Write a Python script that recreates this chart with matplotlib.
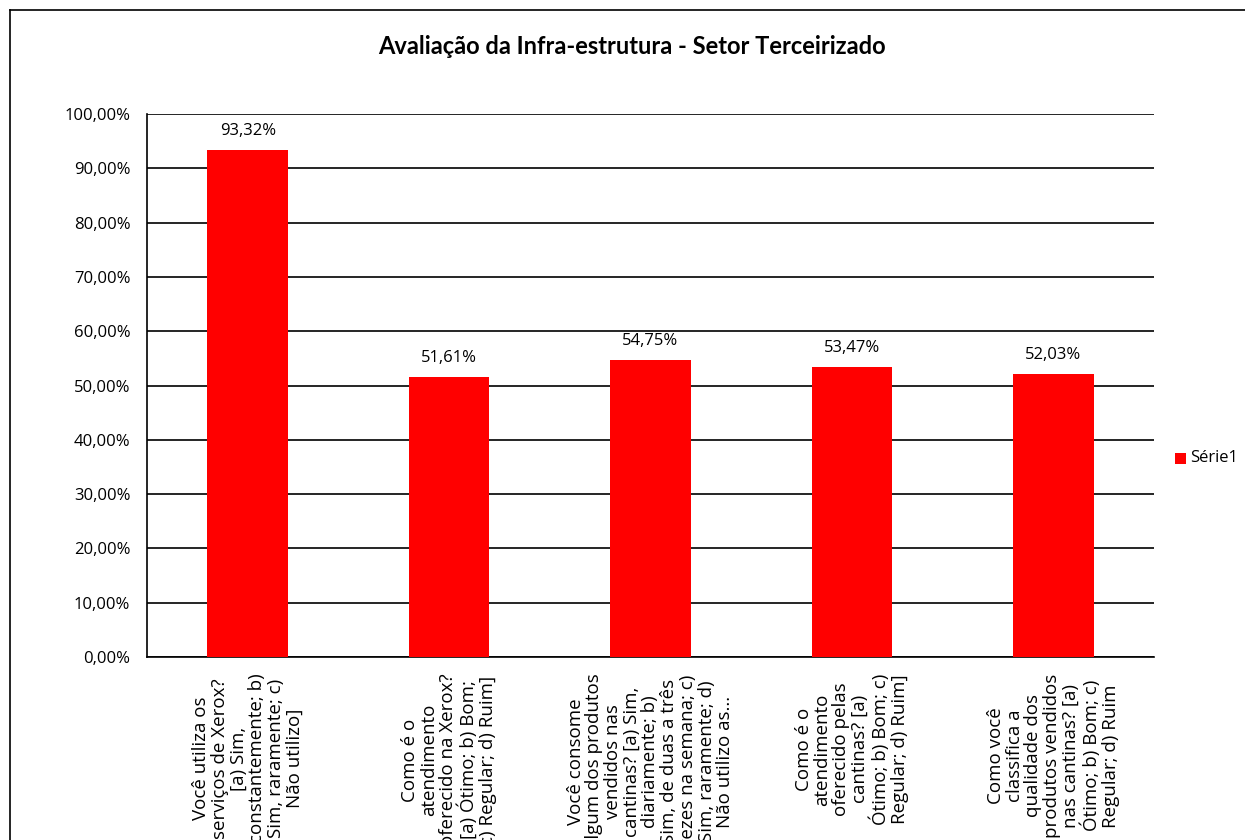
import matplotlib
matplotlib.use("Agg")
import matplotlib.pyplot as plt
from matplotlib import font_manager
from matplotlib.ticker import FuncFormatter, MultipleLocator
from matplotlib.lines import Line2D
from matplotlib.patches import Rectangle

categories = [
    "Você utiliza os\nserviços de Xerox?\n[a) Sim,\nconstantemente; b)\nSim, raramente; c)\nNão utilizo]",
    "Como é o\natendimento\noferecido na Xerox?\n[a) Ótimo; b) Bom;\nc) Regular; d) Ruim]",
    "Você consome\nalgum dos produtos\nvendidos nas\ncantinas? [a) Sim,\ndiariamente; b)\nSim, de duas a três\nvezes na semana; c)\nSim, raramente; d)\nNão utilizo as...",
    "Como é o\natendimento\noferecido pelas\ncantinas? [a)\nÓtimo; b) Bom; c)\nRegular; d) Ruim]",
    "Como você\nclassifica a\nqualidade dos\nprodutos vendidos\nnas cantinas? [a)\nÓtimo; b) Bom; c)\nRegular; d) Ruim",
]
values = [93.32, 51.61, 54.75, 53.47, 52.03]
series_name = "Série1"
title = "Avaliação da Infra-estrutura - Setor Terceirizado"

avail = {f.name for f in font_manager.fontManager.ttflist}
body_font = next((f for f in ["Open Sans", "Lato", "DejaVu Sans"] if f in avail), "DejaVu Sans")
title_font = next((f for f in ["Lato", "DejaVu Sans"] if f in avail), "DejaVu Sans")
plt.rcParams['font.family'] = [body_font, 'DejaVu Sans']

fig = plt.figure(figsize=(12.45, 8.4), dpi=100)
ax = fig.add_axes([147/1245, 1-657/840, (1154-147)/1245, (657-114)/840])

x = list(range(len(values)))
bars = ax.bar(x, values, width=0.40, color="#ff0000", zorder=3, label=series_name)
ax.set_xlim(-0.5, len(values) - 0.5)
ax.set_ylim(0, 100)
ax.yaxis.set_major_locator(MultipleLocator(10))
ax.yaxis.set_major_formatter(FuncFormatter(lambda v, p: f"{v:.2f}".replace(".", ",") + "%"))
ax.grid(axis="y", color="black", linewidth=1.2, zorder=0)
ax.set_axisbelow(True)
for s in ["top", "right"]:
    ax.spines[s].set_visible(False)
for s in ["left", "bottom"]:
    ax.spines[s].set_color("black")
    ax.spines[s].set_linewidth(1.2)
ax.tick_params(axis="y", length=0, pad=12, labelsize=12)
ax.set_xticks(x)
ax.set_xticklabels(categories, rotation=90, ha="center", va="top", multialignment="center",
                   fontsize=13.5, linespacing=1.05)
ax.tick_params(axis="x", length=0, pad=12)

for xi, v in zip(x, values):
    ax.annotate(f"{v:.2f}".replace(".", ",") + "%", (xi, v), xytext=(0, 8),
                textcoords="offset points", ha="center", va="bottom", fontsize=12)

fig.text(632/1245, 1-47/840, title, ha="center", va="center", fontsize=17,
         fontweight="bold", family=[title_font, 'DejaVu Sans'])

# legend
fig.patches.append(Rectangle((1175/1245, 1-464/840), 11/1245, 11/840, transform=fig.transFigure,
                             facecolor="#ff0000", edgecolor="none"))
fig.text(1190/1245, 1-458/840, series_name, ha="left", va="center", fontsize=12)

# outer chart frame
fig.add_artist(Line2D([10/1245, 10/1245], [0, 1-10/840], transform=fig.transFigure, color="black", linewidth=1.2))
fig.add_artist(Line2D([10/1245, 1], [1-10/840, 1-10/840], transform=fig.transFigure, color="black", linewidth=1.2))

fig.savefig("out.png", dpi=100)
